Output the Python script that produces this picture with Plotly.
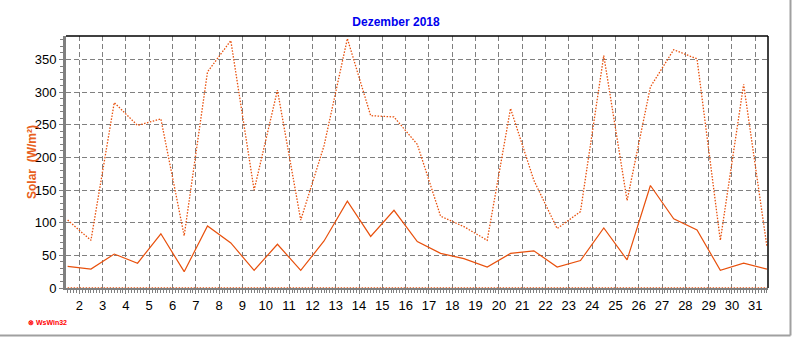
import plotly.graph_objects as go

# Daily solar radiation, December 2018 (W/m²)
days = [d + 0.5 for d in range(1, 32)]
solar_avg = [33, 29, 52, 38, 83, 25, 95, 69, 27, 67, 27, 72, 133, 79, 119, 71,
             53, 45, 32, 53, 57, 32, 42, 92, 43, 157, 106, 89, 27, 38, 29]
solar_max = [104, 73, 284, 249, 259, 80, 331, 379, 150, 303, 104, 218, 382, 264, 262, 220,
             110, 94, 73, 275, 165, 91, 117, 356, 134, 308, 365, 351, 73, 312, 63]
solar_min = [0] * 31

day_ticks = list(range(2, 32))
y_ticks = [0, 50, 100, 150, 200, 250, 300, 350]

LINE = "#e8500c"
GRID = "#808080"

fig = go.Figure()
fig.add_trace(go.Scatter(x=days, y=solar_min, mode="lines",
                         line=dict(color=LINE, width=1.3, dash="1.5px,1.5px"),
                         showlegend=False))
fig.add_trace(go.Scatter(x=days, y=solar_max, mode="lines",
                         line=dict(color=LINE, width=1.3, dash="1.5px,1.5px"),
                         showlegend=False))
fig.add_trace(go.Scatter(x=days, y=solar_avg, mode="lines",
                         line=dict(color=LINE, width=1.2),
                         showlegend=False))

L, R, T, B = 66, 24, 36, 49
W, H = 792, 337
pw, ph = W - L - R, H - T - B

fig.update_layout(
    width=W, height=H,
    margin=dict(l=L, r=R, t=T, b=B, pad=0),
    paper_bgcolor="white", plot_bgcolor="white",
    font=dict(family="Arial, Liberation Sans, sans-serif", size=13, color="black"),
    title=dict(text="<b>Dezember 2018</b>", x=0.5, xanchor="center",
               y=1 - 22 / H, yanchor="middle",
               font=dict(size=12, color="#0000ee")),
    xaxis=dict(range=[1.43, 31.545], tickmode="array", tickvals=day_ticks,
               ticktext=[str(d) for d in day_ticks],
               showgrid=True, gridcolor=GRID, gridwidth=1, griddash="5px,3px",
               showline=True, linecolor=GRID, linewidth=2,
               ticks="outside", ticklen=4, tickcolor=GRID,
               minor=dict(dtick=0.125, tick0=0, ticks="outside", ticklen=3,
                          tickcolor=GRID, showgrid=False),
               zeroline=False, fixedrange=True, layer="below traces"),
    yaxis=dict(range=[0, 386], tickmode="array", tickvals=y_ticks,
               showgrid=True, gridcolor=GRID, gridwidth=1, griddash="5px,3px",
               showline=True, linecolor=GRID, linewidth=3,
               ticks="outside", ticklen=4, tickcolor=GRID,
               minor=dict(dtick=10, tick0=0, ticks="outside", ticklen=3,
                          tickcolor=GRID, showgrid=False),
               zeroline=False, fixedrange=True, layer="below traces"),
)

# Y-axis title
fig.add_annotation(xref="paper", yref="paper", x=(32 - L) / pw, y=0.5,
                   xanchor="center", yanchor="middle", textangle=-90, showarrow=False,
                   text="<b>Solar  (W/m²)</b>", font=dict(size=12, color="#e86020"))

# Black frame on top and right of the plot area
fig.add_shape(type="line", xref="paper", yref="paper", x0=0, x1=1, y0=1, y1=1,
              line=dict(color="black", width=1.5))
fig.add_shape(type="line", xref="paper", yref="paper", x0=1, x1=1, y0=0, y1=1,
              line=dict(color="black", width=1.5))

# Grey page border on the right and bottom
bx = (790.5 - L) / pw
by = (T + ph - 335.5) / ph
fig.add_shape(type="line", xref="paper", yref="paper", x0=-L / pw, x1=bx, y0=by, y1=by,
              line=dict(color="#a0a0a0", width=2))
fig.add_shape(type="line", xref="paper", yref="paper", x0=bx, x1=bx, y0=by,
              y1=(T + ph) / ph, line=dict(color="#a0a0a0", width=2))

# WsWin32 logo
fig.add_annotation(xref="paper", yref="paper", x=(26 - L) / pw, y=(T + ph - 322) / ph,
                   xanchor="left", yanchor="middle", showarrow=False,
                   text="<b>⊗ WsWin32</b>", font=dict(size=7, color="#ff0000"))

fig.write_html("out.html")
